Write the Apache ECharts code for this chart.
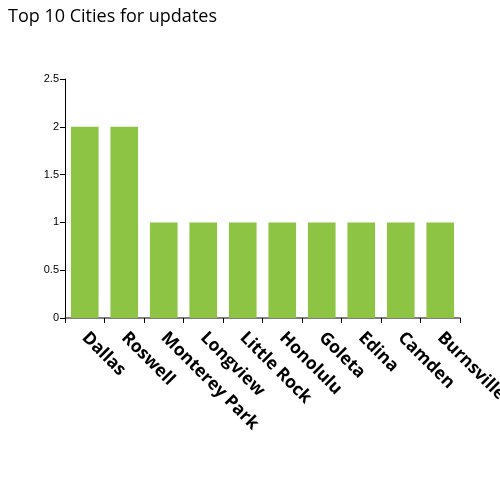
<!DOCTYPE html>
<html lang="en" style="height: 100%">
<head>
  <meta charset="utf-8">
</head>
<body style="height: 100%; margin: 0">
  <div id="container" style="height: 100%"></div>

  <script type="text/javascript" src="https://cdn.jsdelivr.net/npm/echarts@6/dist/echarts.min.js"></script>

  <script type="text/javascript">
    var cities = ['Dallas', 'Roswell', 'Monterey Park', 'Longview', 'Little Rock', 'Honolulu', 'Goleta', 'Edina', 'Camden', 'Burnsville'];
    var updates = [2, 2, 1, 1, 1, 1, 1, 1, 1, 1];

    var dom = document.getElementById('container');
    var myChart = echarts.init(dom, null, { renderer: 'canvas' });

    var option = {
      animation: false,
      title: {
        text: 'Top 10 Cities for updates',
        left: 3,
        top: 3,
        textStyle: {
          fontFamily: 'Open Sans',
          fontSize: 18,
          fontWeight: 'normal',
          color: '#000'
        }
      },
      grid: {
        left: 65,
        right: 40,
        top: 79,
        bottom: 182,
        containLabel: false,
        outerBoundsMode: 'none'
      },
      xAxis: {
        type: 'category',
        data: cities,
        axisLine: { lineStyle: { color: '#555', width: 1.5 } },
        axisTick: { show: true, length: 5, lineStyle: { color: '#000' } },
        axisLabel: {
          rotate: -45,
          interval: 0,
          margin: 17,
          color: '#000',
          fontFamily: 'Open Sans',
          fontWeight: 'bold',
          fontSize: 17.5
        }
      },
      yAxis: {
        type: 'value',
        min: 0,
        max: 2.5,
        interval: 0.5,
        splitLine: { show: false },
        axisLine: { show: true, lineStyle: { color: '#000' } },
        axisTick: { show: true, length: 5, lineStyle: { color: '#000' } },
        axisLabel: {
          color: '#000',
          fontFamily: 'Liberation Sans',
          fontSize: 11,
          margin: 6
        }
      },
      series: [
        {
          name: 'updates',
          type: 'bar',
          data: updates,
          barCategoryGap: '30%',
          itemStyle: { color: '#8dc444' }
        }
      ]
    };

    myChart.setOption(option);
    window.addEventListener('resize', myChart.resize);
  </script>
</body>
</html>
